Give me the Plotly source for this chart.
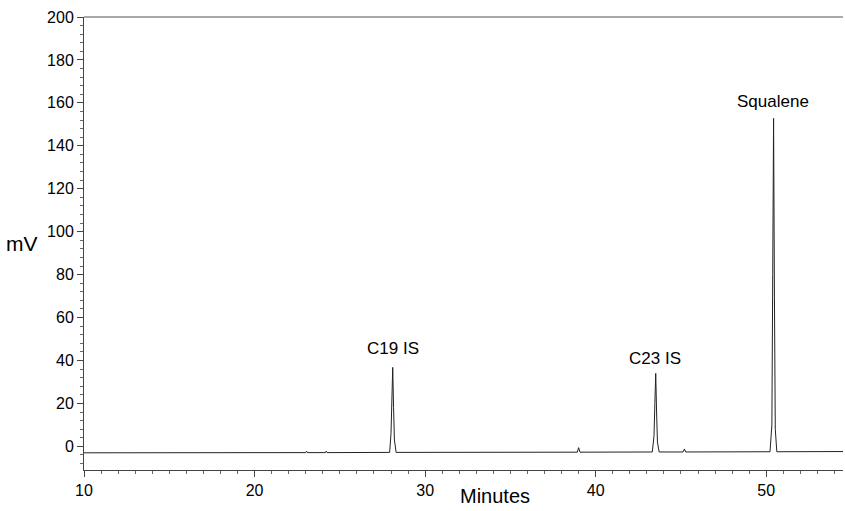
import plotly.graph_objects as go

# Chromatogram trace (minutes, mV)
time_min = [10.0, 16.0, 23.0, 23.05, 23.1, 24.15, 24.2, 24.25, 27.92, 28.0, 28.05,
            28.1, 28.15, 28.2, 28.3, 34.0, 38.92, 39.0, 39.08, 43.32, 43.42, 43.47,
            43.52, 43.57, 43.62, 43.72, 45.12, 45.2, 45.28, 50.22, 50.33, 50.38,
            50.43, 50.48, 50.53, 50.62, 54.5]
signal_mv = [-3.0, -3.0, -2.9, -2.2, -2.9, -2.9, -2.2, -2.9, -2.8, 6.0, 20.0,
             36.8, 18.0, 3.0, -2.8, -2.7, -2.7, -0.6, -2.7, -2.6, 5.0, 20.0,
             34.0, 16.0, 2.0, -2.6, -2.6, -1.2, -2.6, -2.5, 10.0, 80.0,
             152.8, 70.0, 8.0, -2.5, -2.4]

peak_names = ["C19 IS", "C23 IS", "Squalene"]
peak_label_x = [28.1, 43.5, 50.4]
peak_label_y = [45.5, 41.0, 160.5]

x_ticks = [10, 20, 30, 40, 50]
y_ticks = [0, 20, 40, 60, 80, 100, 120, 140, 160, 180, 200]

FONT = "Liberation Sans, Arial, Helvetica, sans-serif"

fig = go.Figure()
fig.add_trace(go.Scatter(x=time_min, y=signal_mv, mode="lines",
                         line=dict(color="#222222", width=1), showlegend=False,
                         hoverinfo="skip"))

for name, px, py in zip(peak_names, peak_label_x, peak_label_y):
    fig.add_annotation(x=px, y=py, text=name, showarrow=False,
                       font=dict(family=FONT, size=17, color="black"))

fig.add_annotation(xref="paper", yref="paper", x=-0.058, y=0.5, xanchor="right",
                   yanchor="middle", text="mV", showarrow=False,
                   font=dict(family=FONT, size=21, color="black"))

fig.add_annotation(xref="paper", yref="paper", x=0.542, y=-0.058, xanchor="center",
                   yanchor="middle", text="Minutes", showarrow=False,
                   font=dict(family=FONT, size=20, color="black"))

# top border line
fig.add_shape(type="line", xref="paper", yref="paper", x0=0, x1=1, y0=1, y1=1,
              line=dict(color="#555555", width=1))

fig.update_layout(
    width=845, height=511,
    margin=dict(l=84, r=2, t=17, b=41),
    plot_bgcolor="white", paper_bgcolor="white",
    font=dict(family=FONT, size=16, color="black"),
    xaxis=dict(range=[10, 54.5], tickvals=x_ticks, ticks="outside", ticklen=6,
               tickcolor="#444", showline=True, linecolor="#444", linewidth=1,
               showgrid=False, zeroline=False,
               minor=dict(dtick=1, ticks="outside", ticklen=3, tickcolor="#666"),
               tickfont=dict(size=16)),
    yaxis=dict(range=[-11, 200], tickvals=y_ticks, ticks="outside", ticklen=6,
               tickcolor="#444", showline=True, linecolor="#444", linewidth=1,
               showgrid=False, zeroline=False,
               minor=dict(dtick=4, ticks="outside", ticklen=3, tickcolor="#666"),
               tickfont=dict(size=16)),
)

fig.write_html("out.html")
